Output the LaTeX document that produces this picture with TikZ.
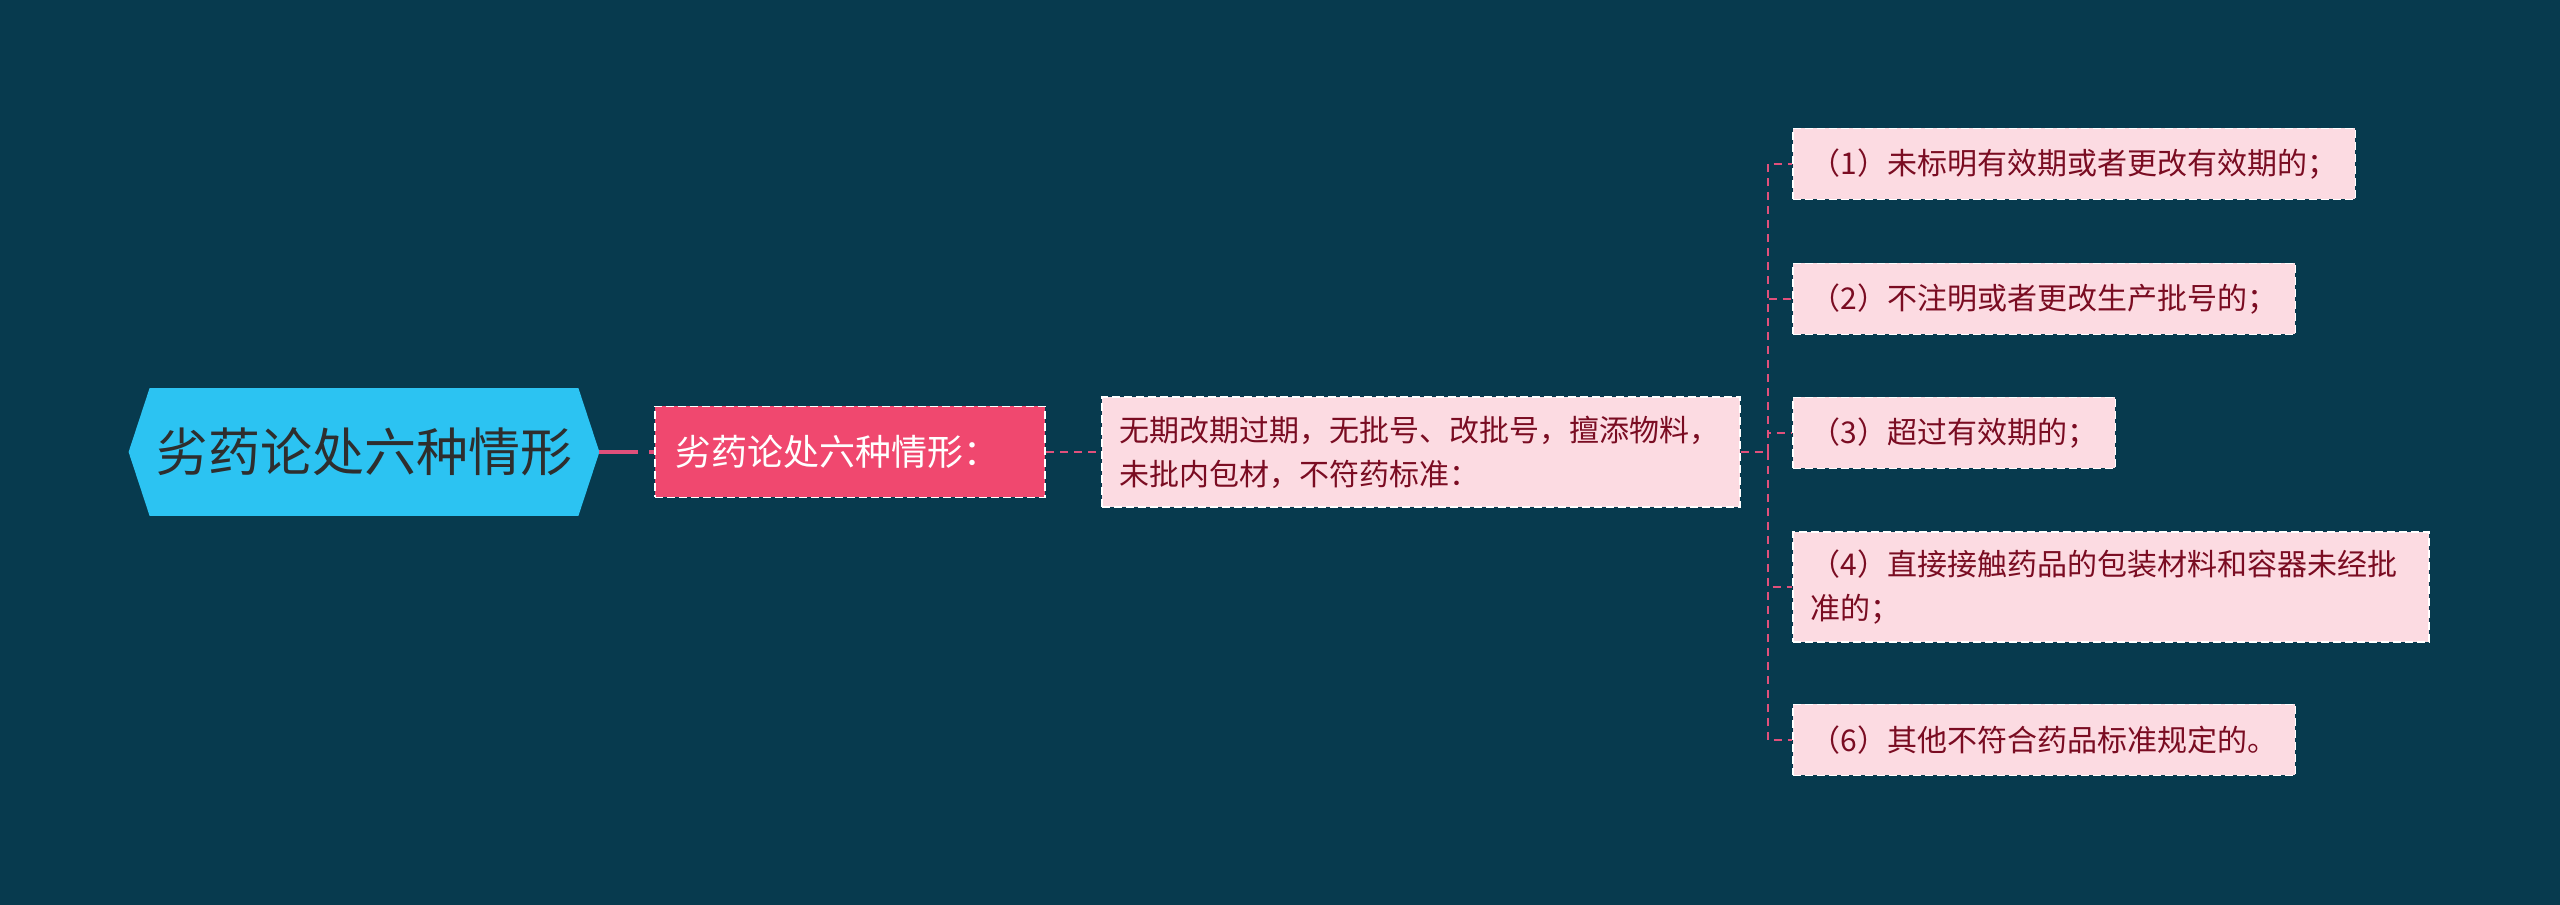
\documentclass[tikz,border=0pt]{standalone}
\usepackage{fontspec}
\newfontfamily\cjk{Noto Sans CJK SC}
\usepackage{tikz}
\usetikzlibrary{
  calc,
  positioning,
  backgrounds
}
\tikzset{>=latex}
\definecolor{bgblue}{HTML}{073A4E}
\definecolor{rootblue}{HTML}{2CC3F2}
\definecolor{roottext}{HTML}{2E2E2E}
\definecolor{subpink}{HTML}{F0486F}
\definecolor{leafpink}{HTML}{FCDBE2}
\definecolor{leaftext}{HTML}{7A0C22}
\definecolor{linkpink}{HTML}{E0507B}

\begin{document}
\begin{tikzpicture}[x=1pt, y=1pt,
    rootnode/.style = {inner sep=0pt, minimum width=235pt, minimum height=63.5pt, text=roottext, font=\cjk\fontsize{26pt}{30pt}\selectfont},
    subnode/.style = {rectangle, fill=subpink, draw=white, line width=0.8pt, dash pattern=on 4pt off 2pt, text=white, inner xsep=10pt, text width=175pt, minimum height=45.5pt, align=left, font=\cjk\fontsize{18pt}{22pt}\selectfont},
    leaf/.style = {rectangle, fill=leafpink, draw=white, line width=0.8pt, dash pattern=on 4pt off 2pt, text=leaftext, inner xsep=9pt, inner ysep=0pt, minimum height=35.5pt, align=left, font=\cjk\fontsize{15pt}{22pt}\selectfont},
    wide/.style = {text width=301pt, minimum height=55pt},
    link/.style = {draw=linkpink, line width=1pt, dash pattern=on 4pt off 3pt},
    rootlink/.style = {draw=linkpink, line width=2pt, dash pattern=on 19.5pt off 5.5pt}]
				\useasboundingbox (0,0) rectangle (1280,452.5);
				% nodes
				\node[rootnode] (root) at (182,226.5) {劣药论处六种情形};
				\node[subnode, right=27.5pt of root] (sub) {劣药论处六种情形：};
				\node[leaf, wide, right=27.5pt of sub] (mid) {无期改期过期，无批号、改批号，擅添物料，\\未批内包材，不符药标准：};

				\node[leaf, anchor=west] (l1) at (896,370.5) {（1）未标明有效期或者更改有效期的；};
				\node[leaf, anchor=west] (l2) at (896,303) {（2）不注明或者更改生产批号的；};
				\node[leaf, anchor=west] (l3) at (896,236) {（3）超过有效期的；};
				\node[leaf, wide, text width=300pt, anchor=west] (l4) at (896,159) {（4）直接接触药品的包装材料和容器未经批\\准的；};
				\node[leaf, anchor=west] (l6) at (896,82.5) {（6）其他不符合药品标准规定的。};

				% background and hexagon
				\begin{scope}[on background layer]
					\fill[bgblue] (0,0) rectangle (1280,452.5);
					\fill[rootblue] (root.west) -- ([xshift=10.5pt]root.north west) -- ([xshift=-10.5pt]root.north east) -- (root.east) -- ([xshift=-10.5pt]root.south east) -- ([xshift=10.5pt]root.south west) -- cycle;
				\end{scope}

				% connections
				\draw[rootlink] (root.east) -- (sub.west);
				\draw[link] (sub.east) -- (mid.west);
				\coordinate[right=13.5pt of mid.east] (hub);
				\draw[link] (mid.east) -- (hub);
				\foreach \leafname in {l1,l2,l3,l4,l6}
					\draw[link] (hub) |- (\leafname.west);
			\end{tikzpicture}
\end{document}
